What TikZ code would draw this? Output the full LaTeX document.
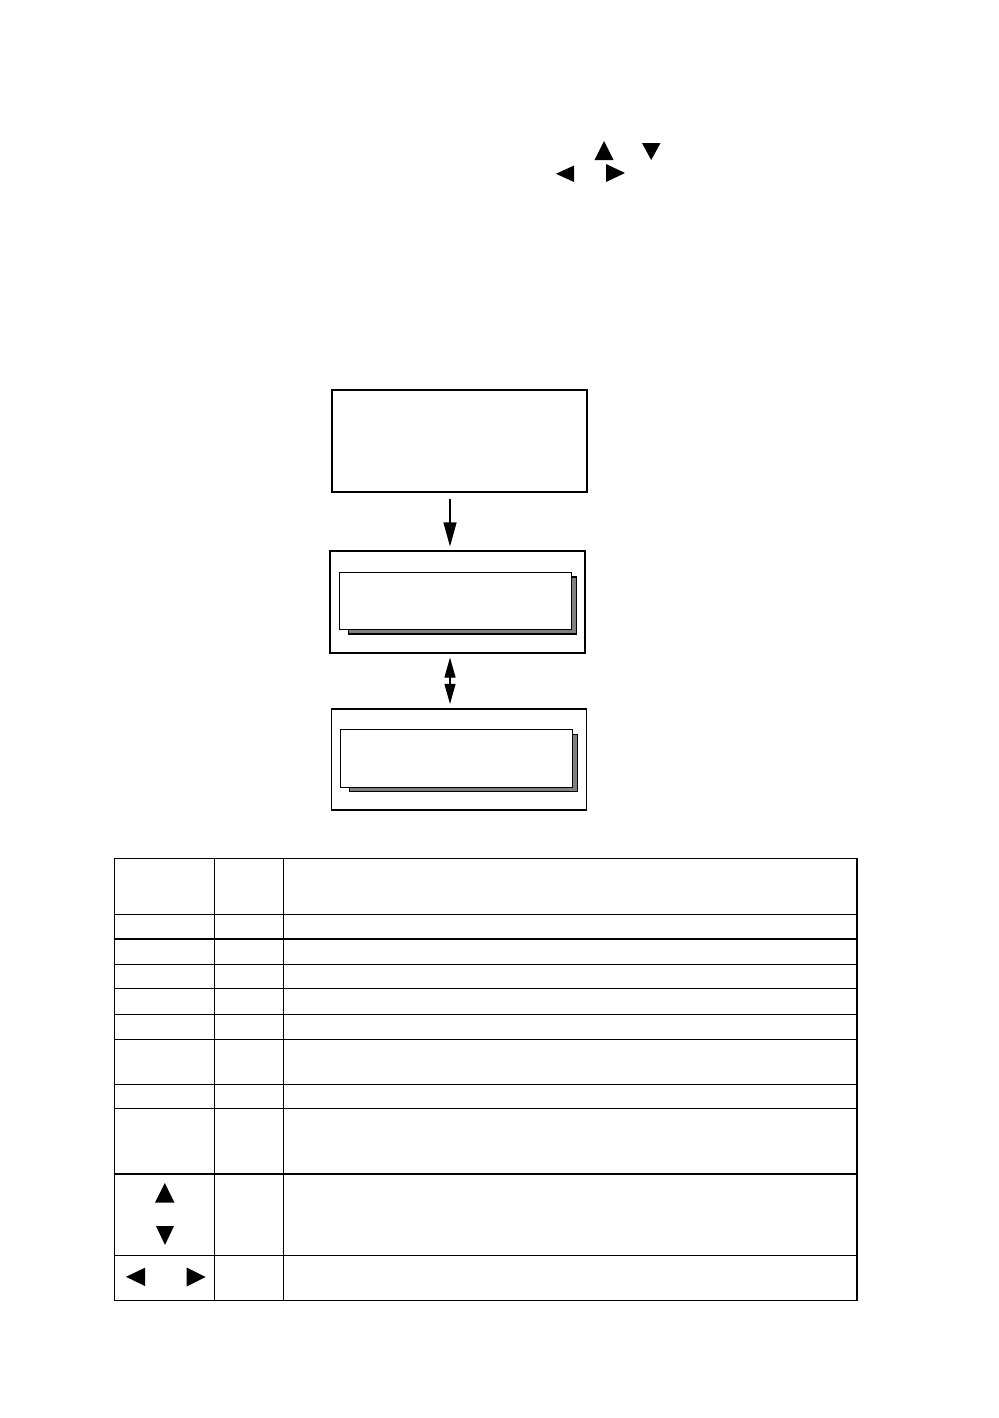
\documentclass[tikz,border=0pt]{standalone}
\usetikzlibrary{arrows.meta}
\begin{document}
\begin{tikzpicture}[x=1pt,y=-1pt,line width=1.1pt,
  frame/.style={draw=black,fill=white,inner sep=0pt,rectangle},
  shadowbox/.style={draw=black,fill=black!50,inner sep=0pt,rectangle}]
\useasboundingbox[fill=white] (0,0) rectangle (998,1418);
% top triangles
\fill (594.5,160) -- (613.5,160) -- (604,141) -- cycle;
\fill (642,143) -- (660.5,143) -- (651.2,160) -- cycle;
\fill (574,165.5) -- (574,182) -- (556,173.8) -- cycle;
\fill (606,164) -- (606,182) -- (625,173) -- cycle;
% boxes
\node[frame,minimum width=255pt,minimum height=102pt] (b1) at (459.5,441) {};
\node[frame,minimum width=255pt,minimum height=102pt] (b2) at (457.5,602) {};
\node[frame,minimum width=255pt,minimum height=101pt] (b3) at (459,759.5) {};
% shadows + inner boxes
\node[shadowbox,minimum width=228pt,minimum height=57pt] (s2) at (462.7,605.5) {};
\node[frame,minimum width=232pt,minimum height=57pt] (i2) at (455.5,600.8) {};
\node[shadowbox,minimum width=228pt,minimum height=57.5pt] (s3) at (463.5,762.8) {};
\node[frame,minimum width=232pt,minimum height=58pt] (i3) at (456.7,758.3) {};
% arrows
\draw[-{Triangle[length=24pt,width=13pt]}] ([xshift=-9.5pt,yshift=-6pt]b1.south) -- ([xshift=-7.5pt,yshift=4pt]b2.north);
\draw[{Triangle[length=20pt,width=11pt]}-{Triangle[length=20pt,width=11pt]}] ([xshift=-7.5pt,yshift=-4pt]b2.south) -- ([xshift=-9pt,yshift=4.5pt]b3.north);
% table
\draw (114.5,858.3) rectangle (857,1300.5);
\draw (214.5,858.3) -- (214.5,1300.5);
\draw (283.5,858.3) -- (283.5,1300.5);
\foreach \yy in {914.3,939,964.3,988.3,1014.3,1039.3,1084.3,1108.3,1174,1255.7}
  \draw (114.5,\yy) -- (857,\yy);
% table triangles
\fill (155,1202.7) -- (174.5,1202.7) -- (164.8,1183) -- cycle;
\fill (156,1226) -- (174,1226) -- (165,1245) -- cycle;
\fill (145,1267.7) -- (145,1286) -- (126,1276.8) -- cycle;
\fill (186.7,1267.5) -- (186.7,1286.5) -- (205.7,1277) -- cycle;
\end{tikzpicture}
\end{document}
